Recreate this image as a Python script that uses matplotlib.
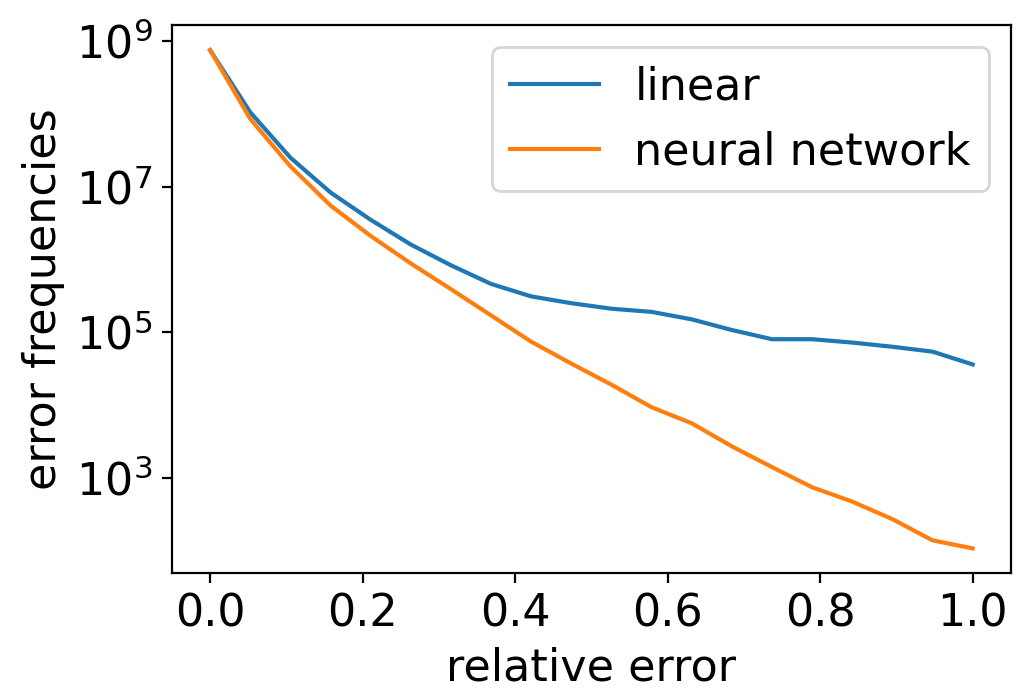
import numpy as np
import matplotlib
matplotlib.use("Agg")
import matplotlib.pyplot as plt
from matplotlib.ticker import NullLocator

# relative error bins (20 points on [0, 1])
rel_error = np.linspace(0, 1, 20)

# error frequencies
linear = [7.5e8, 1.05e8, 2.5e7, 8.3e6, 3.5e6, 1.6e6, 8.3e5, 4.6e5, 3.1e5, 2.5e5,
          2.1e5, 1.9e5, 1.5e5, 1.07e5, 8.0e4, 8.0e4, 7.2e4, 6.3e4, 5.4e4, 3.6e4]
neural_network = [7.5e8, 8.5e7, 1.9e7, 5.5e6, 2.1e6, 8.8e5, 3.9e5, 1.7e5, 7.4e4, 3.7e4,
                  1.9e4, 9.3e3, 5.6e3, 2.7e3, 1.4e3, 7.4e2, 4.7e2, 2.7e2, 1.38e2, 1.07e2]

plt.rcParams['font.size'] = 16

fig = plt.figure(figsize=(5.165, 3.5), dpi=200)
ax = fig.add_axes([0.1665, 0.181, 0.812, 0.783])

ax.plot(rel_error, linear, label="linear")
ax.plot(rel_error, neural_network, label="neural network")
ax.set_yscale("log")
ax.set_yticks([1e3, 1e5, 1e7, 1e9])
ax.yaxis.set_minor_locator(NullLocator())
ax.set_xlabel("relative error")
ax.set_ylabel("error frequencies")
ax.legend(loc="upper right")

fig.savefig("out.png", dpi=200)
